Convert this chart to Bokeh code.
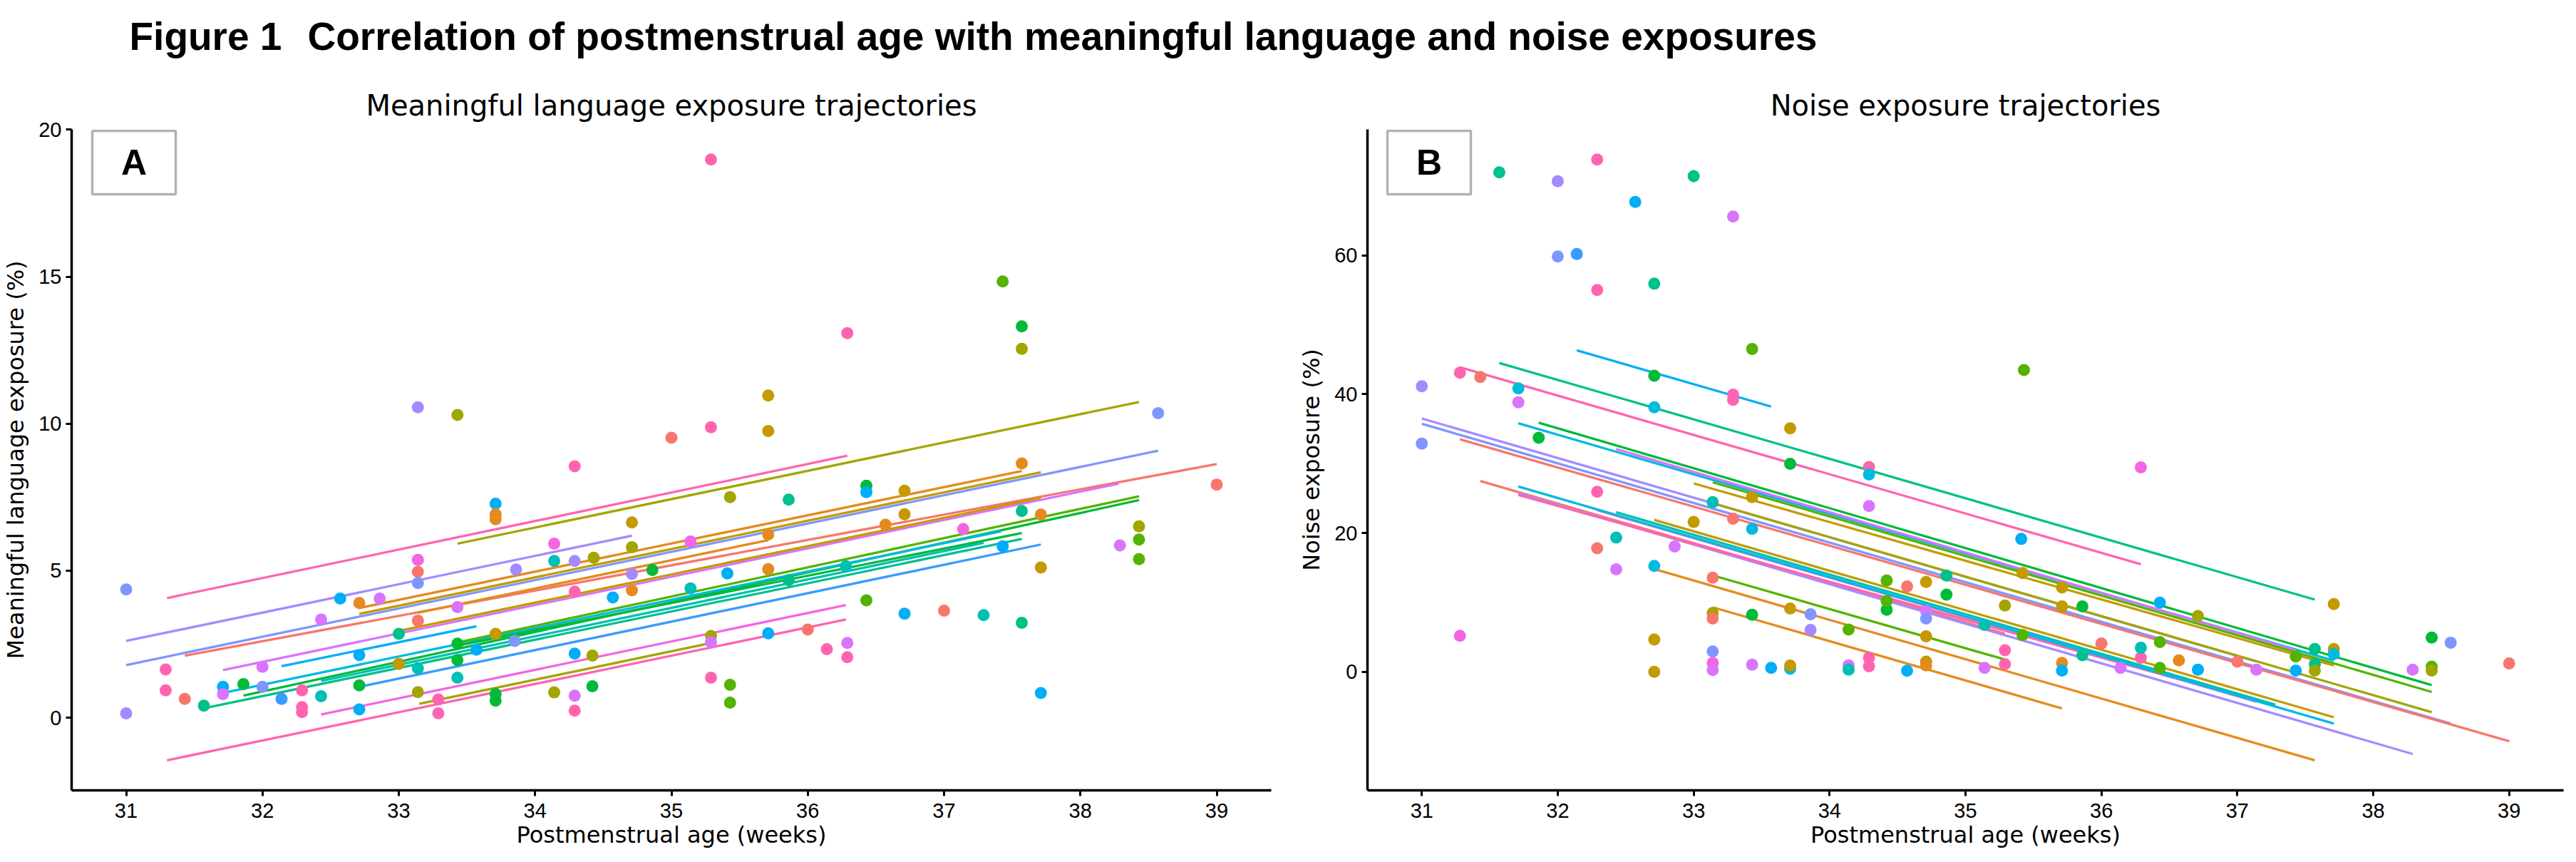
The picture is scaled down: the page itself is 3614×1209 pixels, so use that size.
from bokeh.plotting import figure
from bokeh.layouts import column, row
from bokeh.models import Range1d, BoxAnnotation, Label, FixedTicker
from bokeh.embed import file_html
from bokeh.resources import INLINE
from bokeh.core.properties import value

# ---------------- data ----------------
main_title_a = "Figure 1"
main_title_b = "Correlation of postmenstrual age with meaningful language and noise exposures"
title_lang = "Meaningful language exposure trajectories"
title_noise = "Noise exposure trajectories"
x_label = "Postmenstrual age (weeks)"
y_label_lang = "Meaningful language exposure (%)"
y_label_noise = "Noise exposure (%)"

week_ticks = [31, 32, 33, 34, 35, 36, 37, 38, 39]
lang_ticks = [0, 5, 10, 15, 20]
noise_ticks = [0, 20, 40, 60]

# Panel A: observed meaningful-language exposure (x = PMA weeks, y = %), colour = infant
lang_x = [33.14, 33.43, 34.29, 35.29, 37.43, 37.57, 37.57, 36.29, 35.71, 35.29, 35.00, 35.71, 38.57, 37.57, 39.00,
          33.71, 33.71, 33.71, 34.71, 34.14, 34.71, 34.43, 33.14, 34.14, 34.29, 33.14, 33.86, 34.86, 34.71, 33.14,
          31.00, 34.29, 34.71, 32.57, 32.86, 32.71, 34.57, 33.43, 33.14, 32.43, 33.00, 33.71, 33.85, 33.57, 33.43,
          33.43, 32.71, 33.00, 33.14, 34.29, 34.42, 31.29, 32.00, 31.71, 31.71, 31.86, 32.00, 32.71, 33.43, 31.29,
          31.43, 31.57, 32.14, 32.29, 32.29, 32.29, 32.43, 32.71, 33.14, 33.29, 33.29, 33.71, 33.71, 34.14, 34.29,
          34.29, 34.42, 31.00, 35.43, 36.43, 36.43, 35.86, 36.71, 36.71, 36.57, 37.57, 37.71, 37.14, 35.14, 35.71,
          38.43, 38.43, 38.29, 37.43, 38.43, 37.71, 35.41, 35.71, 35.14, 35.86, 36.28, 36.43, 36.71, 37.00, 37.29,
          37.57, 35.29, 35.29, 35.71, 36.00, 36.29, 36.29, 36.14, 35.29, 35.43, 35.43, 37.71]
lang_y = [10.56, 10.30, 8.55, 18.99, 14.84, 13.31, 12.55, 13.08, 10.96, 9.88, 9.52, 9.75, 10.36, 8.65, 7.93,
          7.28, 6.92, 6.75, 6.64, 5.92, 5.80, 5.44, 5.37, 5.33, 5.33, 4.96, 5.04, 5.02, 4.89, 4.58,
          4.36, 4.29, 4.33, 4.05, 4.05, 3.90, 4.09, 3.76, 3.30, 3.34, 2.85, 2.85, 2.61, 2.31, 2.52,
          1.96, 2.13, 1.83, 1.68, 2.18, 2.11, 1.64, 1.73, 1.05, 0.80, 1.14, 1.05, 1.10, 1.36, 0.93,
          0.64, 0.41, 0.64, 0.93, 0.36, 0.19, 0.73, 0.28, 0.87, 0.62, 0.15, 0.80, 0.58, 0.86, 0.75,
          0.24, 1.07, 0.15, 7.50, 7.89, 7.67, 7.42, 7.72, 6.92, 6.56, 7.03, 6.91, 6.42, 5.99, 6.23,
          6.51, 6.06, 5.86, 5.83, 5.39, 5.11, 4.91, 5.05, 4.40, 4.68, 5.15, 3.99, 3.54, 3.64, 3.49,
          3.23, 2.78, 2.57, 2.87, 3.00, 2.54, 2.06, 2.33, 1.36, 1.12, 0.51, 0.84]
lang_c = ["pur", "oli", "pnk", "pnk", "grn", "grn2", "oli", "pnk", "gol", "pnk", "sal", "gol", "pbl", "ora", "sal",
          "lbl", "ora", "ora", "gol", "mag", "oli", "oli", "mag", "tea", "pur", "sal", "pur", "grn2", "pur", "pbl",
          "pbl", "pnk", "ora", "lbl", "vio", "ora", "lbl", "vio", "sal", "vio", "tgr", "gol", "pbl", "lbl", "grn2",
          "grn2", "lbl", "gol", "tea", "lbl", "oli", "pnk", "vio", "lbl", "vio", "grn2", "pbl", "grn2", "tea", "pnk",
          "sal", "tgr", "blu", "pnk", "pnk", "pnk", "tea", "lbl", "oli", "pnk", "pnk", "grn2", "grn2", "oli", "vio",
          "pnk", "grn2", "pur", "oli", "grn2", "lbl", "tgr", "gol", "gol", "ora", "tgr", "ora", "mag", "mag", "ora",
          "oli", "grn", "vio", "lbl", "grn", "gol", "lbl", "ora", "tea", "tgr", "tea", "grn", "lbl", "sal", "tea",
          "tgr", "oli", "vio", "lbl", "sal", "vio", "pnk", "pnk", "pnk", "grn", "grn", "lbl"]

# Panel A: fitted individual trajectories (start/end PMA and fitted %)
lang_fit_x0 = [31.30, 33.43, 31.00, 31.00, 31.43, 32.71, 32.71, 33.14, 31.71, 33.00, 32.14, 31.57, 31.86, 31.71,
               33.43, 32.71, 32.43, 33.43, 32.43, 33.15, 31.30]
lang_fit_x1 = [36.29, 38.43, 34.71, 38.57, 39.00, 37.57, 37.71, 35.71, 38.28, 37.71, 33.57, 37.57, 38.43, 37.42,
               38.43, 37.71, 37.29, 37.57, 36.28, 35.29, 36.28]
lang_fit_y0 = [4.07, 5.92, 2.61, 1.79, 2.11, 3.73, 3.53, 3.57, 1.62, 2.95, 1.75, 0.32, 0.75, 0.84,
               2.56, 1.05, 1.25, 2.45, 0.11, 0.47, -1.45]
lang_fit_y1 = [8.91, 10.74, 6.19, 9.08, 8.63, 8.39, 8.35, 6.04, 7.96, 7.48, 3.11, 6.08, 7.40, 6.34,
               7.53, 5.89, 5.95, 6.28, 3.83, 2.54, 3.34]
lang_fit_c = ["pnk", "oli", "pur", "pbl", "sal", "ora", "gol", "ora", "vio", "gol", "lbl", "tgr", "grn2", "cya",
              "grn", "blu", "tea", "grn2", "mag", "oli", "pnk"]

# Panel B: observed noise exposure (x = PMA weeks, y = %), colour = infant
noise_x = [31.57, 32.00, 32.29, 33.00, 32.57, 33.29, 32.00, 32.14, 32.71, 32.29, 33.43, 31.28, 31.43, 31.00, 31.71,
           31.71, 32.71, 32.71, 33.29, 33.29, 33.71, 31.86, 31.00, 33.71, 34.29, 34.29, 32.29, 33.43, 35.43, 36.29,
           33.14, 34.29, 33.00, 33.29, 33.43, 32.43, 32.29, 32.86, 32.43, 32.71, 33.14, 34.42, 34.57, 34.71, 34.86,
           34.86, 34.42, 34.42, 34.71, 34.71, 33.14, 33.14, 33.43, 33.71, 33.86, 33.86, 34.14, 34.71, 32.71, 31.28,
           33.14, 33.14, 33.14, 32.71, 33.43, 33.57, 33.71, 33.71, 34.14, 34.14, 34.29, 34.29, 34.57, 34.71, 34.71,
           35.41, 35.42, 35.29, 35.71, 35.71, 35.86, 36.43, 36.43, 36.71, 37.71, 37.71, 37.71, 37.57, 37.57, 37.57,
           37.43, 37.43, 35.14, 35.42, 35.29, 35.29, 35.14, 35.71, 35.71, 35.86, 36.00, 36.29, 36.29, 36.14, 36.43,
           36.57, 36.71, 37.00, 37.14, 38.43, 38.57, 38.29, 38.43, 38.43, 39.00]
noise_y = [71.97, 70.69, 73.83, 71.42, 67.70, 65.61, 59.84, 60.20, 55.93, 55.02, 46.51, 43.11, 42.49, 41.14, 40.85,
           38.84, 42.67, 38.11, 39.94, 39.20, 35.08, 33.73, 32.89, 29.97, 29.50, 28.43, 25.95, 25.17, 43.48, 29.45,
           24.44, 23.89, 21.59, 22.07, 20.61, 19.33, 17.80, 18.06, 14.78, 15.25, 13.57, 13.14, 12.30, 12.95, 11.13,
           13.86, 8.94, 10.20, 8.76, 7.67, 8.47, 7.67, 8.21, 9.12, 8.29, 6.03, 6.10, 5.11, 4.64, 5.19,
           2.93, 1.29, 0.27, 0.00, 1.03, 0.56, 0.45, 0.90, 0.92, 0.30, 2.02, 0.81, 0.16, 1.47, 0.92,
           19.15, 14.23, 9.56, 12.15, 9.42, 9.42, 9.96, 4.28, 8.03, 9.75, 3.29, 2.56, 3.29, 1.10, 0.19,
           2.20, 0.19, 6.75, 5.30, 3.11, 1.10, 0.56, 1.29, 0.19, 2.38, 4.09, 2.02, 3.47, 0.56, 0.56,
           1.65, 0.30, 1.47, 0.30, 4.93, 4.20, 0.30, 0.74, 0.19, 1.21]
noise_c = ["tgr", "pur", "pnk", "tgr", "lbl", "vio", "pbl", "blu", "tgr", "pnk", "grn", "pnk", "sal", "pur", "cya",
           "vio", "grn2", "cya", "pnk", "pnk", "gol", "grn2", "pbl", "grn2", "pnk", "cya", "pnk", "gol", "grn", "mag",
           "tea", "vio", "gol", "sal", "cya", "tea", "sal", "vio", "vio", "cya", "sal", "grn", "sal", "gol", "grn2",
           "tgr", "grn2", "grn", "vio", "pbl", "oli", "sal", "grn2", "gol", "pbl", "pur", "grn", "gol", "gol", "mag",
           "pbl", "mag", "vio", "gol", "vio", "lbl", "cya", "gol", "vio", "tea", "pnk", "pnk", "lbl", "gol", "ora",
           "lbl", "gol", "oli", "gol", "gol", "grn2", "lbl", "grn", "oli", "gol", "gol", "cya", "tgr", "tgr", "oli",
           "grn", "lbl", "tea", "grn", "pnk", "pnk", "vio", "ora", "lbl", "tgr", "sal", "pnk", "tea", "vio", "grn",
           "ora", "lbl", "sal", "vio", "grn2", "pbl", "vio", "grn", "oli", "sal"]

# Panel B: fitted individual trajectories
noise_fit_x0 = [32.14, 31.57, 31.28, 31.00, 31.00, 31.71, 31.86, 31.28, 32.43, 33.00, 31.43, 31.71, 31.71, 32.29,
                32.43, 32.71, 32.71, 33.14, 33.14, 31.71, 33.14, 33.14]
noise_fit_x1 = [33.57, 37.57, 36.29, 37.14, 38.57, 37.71, 38.43, 39.00, 37.43, 37.71, 35.29, 38.29, 37.14, 37.14,
                37.28, 37.71, 37.57, 35.28, 35.71, 37.71, 38.43, 38.43]
noise_fit_y0 = [46.33, 44.50, 43.88, 36.50, 35.74, 35.81, 35.90, 33.50, 32.10, 27.15, 27.50, 25.70, 25.50, 23.30,
                23.00, 21.90, 14.80, 13.90, 9.30, 26.70, 24.30, 27.30]
noise_fit_y1 = [38.22, 10.40, 15.50, 1.50, -7.46, 1.60, -1.92, -10.00, 3.11, 0.90, 5.48, -11.84, -4.18, -4.30,
                -4.73, -6.55, -12.75, 1.83, -5.27, -7.46, -5.82, -2.90]
noise_fit_c = ["lbl", "tgr", "pnk", "pur", "pbl", "cya", "grn2", "sal", "vio", "gol", "sal", "pur", "pnk", "mag",
               "tea", "gol", "ora", "grn", "ora", "cya", "oli", "grn"]

# ---------------- style ----------------
PALETTE = {
    "sal": "#F8766D", "ora": "#E58A1F", "gol": "#C49A00", "oli": "#A3A500", "grn": "#53B400",
    "grn2": "#00BA38", "tgr": "#00C08B", "tea": "#00BFB4", "cya": "#00BAE0", "lbl": "#00AEF8",
    "blu": "#3A9BFF", "pbl": "#7F96FF", "pur": "#A58AFF", "vio": "#D874FD", "mag": "#F564E3",
    "pnk": "#FF64B0",
}
TICK_FONT = "Liberation Sans"
LABEL_FONT = "DejaVu Sans"

FRAME_H = 927
HEADER_H = 84


def padded(vals, frac=0.05):
    lo, hi = min(vals), max(vals)
    span = hi - lo
    return lo - frac * span, hi + frac * span


def make_panel(px, py, pc, fx0, fx1, fy0, fy1, fc, yticks, ylabel, ptitle, frame_w, b_left, b_right,
               letter, box_px):
    x0, x1 = padded(px + fx0 + fx1)
    y0, y1 = padded(py + fy0 + fy1)
    p = figure(frame_width=frame_w, frame_height=FRAME_H, output_backend="svg", toolbar_location=None,
               title=ptitle, x_range=Range1d(x0, x1), y_range=Range1d(y0, y1),
               min_border_left=b_left, min_border_right=b_right, min_border_top=97, min_border_bottom=90)
    p.title.align = "center"
    p.title.text_font = LABEL_FONT
    p.title.text_font_size = "40px"
    p.title.text_font_style = "normal"
    p.title.text_color = "black"
    p.title.standoff = 21
    p.outline_line_color = None
    p.grid.visible = False
    p.background_fill_color = "white"
    p.border_fill_alpha = 0.0

    p.segment(x0=fx0, y0=fy0, x1=fx1, y1=fy1, line_color=[PALETTE[c] for c in fc], line_width=3.3)
    p.scatter(px, py, size=17, fill_color=[PALETTE[c] for c in pc], line_color=None)

    for ax in (p.xaxis[0], p.yaxis[0]):
        ax.axis_line_width = 3.5
        ax.axis_line_color = "black"
        ax.major_tick_line_width = 3
        ax.major_tick_line_color = "black"
        ax.major_tick_out = 8
        ax.major_tick_in = 0
        ax.minor_tick_line_color = None
        ax.major_label_text_font = TICK_FONT
        ax.major_label_text_font_size = "29px"
        ax.major_label_text_color = "black"
        ax.axis_label_text_font = LABEL_FONT
        ax.axis_label_text_font_size = "32px"
        ax.axis_label_text_font_style = "normal"
        ax.axis_label_text_color = "black"

    p.xaxis.ticker = FixedTicker(ticks=week_ticks)
    p.yaxis.ticker = FixedTicker(ticks=yticks)
    p.xaxis.axis_label = x_label
    p.yaxis.axis_label = ylabel
    p.xaxis.major_label_standoff = 10
    p.xaxis.axis_label_standoff = 2
    p.yaxis.major_label_standoff = 6
    p.yaxis.axis_label_standoff = 10

    # panel letter box (position given in panel pixels relative to frame top-left)
    bx0, bx1, by0, by1 = box_px
    sx = (x1 - x0) / frame_w
    sy = (y1 - y0) / FRAME_H
    left = x0 + bx0 * sx
    right = x0 + bx1 * sx
    top = y1 - by0 * sy
    bottom = y1 - by1 * sy
    p.add_layout(BoxAnnotation(left=left, right=right, top=top, bottom=bottom,
                               fill_color="white", fill_alpha=1.0,
                               line_color="black", line_width=3.5))
    p.add_layout(Label(x=(left + right) / 2, y=(top + bottom) / 2, text=letter,
                       text_align="center", text_baseline="middle",
                       text_font=TICK_FONT, text_font_size="50px", text_font_style="bold",
                       text_color="black"))
    return p


p1 = make_panel(lang_x, lang_y, lang_c, lang_fit_x0, lang_fit_x1, lang_fit_y0, lang_fit_y1, lang_fit_c,
                lang_ticks, y_label_lang, title_lang, 1683, 96, 13, "A", (29, 146, 2, 91))
p2 = make_panel(noise_x, noise_y, noise_c, noise_fit_x0, noise_fit_x1, noise_fit_y0, noise_fit_y1, noise_fit_c,
                noise_ticks, y_label_noise, title_noise, 1678, 122, 2, "B", (28, 145, 2, 91))

total_w = 1792 + 1802
header = figure(width=total_w, height=HEADER_H, output_backend="svg", toolbar_location=None,
                title=None, x_range=Range1d(0, total_w), y_range=Range1d(HEADER_H, 0),
                x_axis_type=None, y_axis_type=None,
                min_border_left=0, min_border_right=0, min_border_top=0, min_border_bottom=0)
header.outline_line_color = None
header.grid.visible = False
header.text(x=[181], y=[50], text=[main_title_a], text_font=value(TICK_FONT),
            text_font_size=value("55px"), text_font_style="bold", text_color="black",
            text_align="left", text_baseline="alphabetic")
header.text(x=[431], y=[50], text=[main_title_b], text_font=value(TICK_FONT),
            text_font_size=value("55px"), text_font_style="bold", text_color="black",
            text_align="left", text_baseline="alphabetic")

layout = column(header, row(p1, p2))
open("out.html", "w").write(file_html(layout, INLINE))
